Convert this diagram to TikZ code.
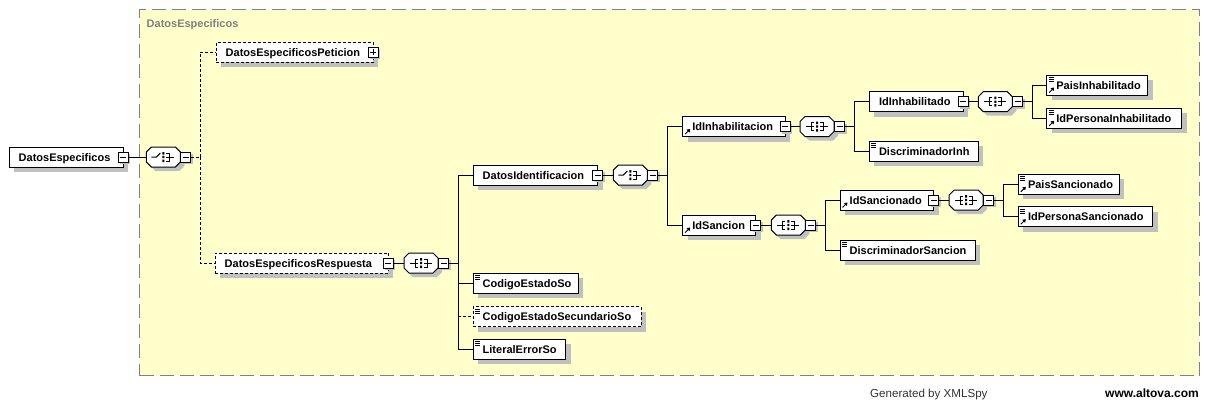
\documentclass[tikz,border=0pt]{standalone}
\usepackage{fontspec}
\setmainfont{Liberation Sans}
\usetikzlibrary{arrows.meta}
\definecolor{grpfill}{RGB}{255,255,204}
\definecolor{grpline}{RGB}{128,128,128}
\definecolor{shad}{RGB}{192,192,192}
\tikzset{
  ebx/.style={draw,fill=white,line width=1pt,minimum height=20pt,inner sep=0pt,outer sep=0pt},
  etxt/.style={anchor=base west,inner sep=0pt,font=\bfseries\fontsize{11}{13}\selectfont},
  sq/.style={draw,fill=white,line width=1pt,minimum size=10pt,inner sep=0pt,outer sep=0pt},
  conn/.style={line width=1pt,black},
  dconn/.style={line width=1pt,black,dash pattern=on 3pt off 2pt},
  edash/.style={dash pattern=on 3pt off 2pt},
  esolid/.style={solid},
}
% element box: name, left, right, cy, label, style
\newcommand\ebox[6]{%
  \fill[shad] (#2+5,#4-5) rectangle (#3+5,#4+15);
  \node[ebx,#6,minimum width={#3-(#2)},anchor=west] (#1) at (#2,#4) {};
  \node[etxt] (#1T) at (#2+9.5,#4+4) {#5};
}
\newcommand\msq[3]{%
  \fill[shad] (#2-3,#3-3) rectangle (#2+7,#3+7);
  \node[sq] (#1) at (#2,#3) {};
  \draw[line width=1pt] (#1.center) +(-3,0) -- +(3,0);
}
\newcommand\psq[3]{%
  \fill[shad] (#2-3,#3-3) rectangle (#2+7,#3+7);
  \node[sq] (#1) at (#2,#3) {};
  \draw[line width=1pt] (#1.center) +(-3,0) -- +(3,0) (#1.center) +(0,-3) -- +(0,3);
}
\newcommand\eqic[1]{%
  \draw[line width=1pt] ([shift={(2,2.5)}]#1.north west) -- ++(5,0)
    ([shift={(2,4.5)}]#1.north west) -- ++(5,0)
    ([shift={(2,6.5)}]#1.north west) -- ++(5,0);
}
\newcommand\refic[1]{%
  \draw[line width=1pt,-{Triangle[length=3pt,width=4pt]}] ([shift={(2.5,-2.5)}]#1.south west) -- ++(5,-5);
}
% octagon: name, cx, cy
\newcommand\octo[3]{%
  \fill[shad,shift={(#2+4,#3+4)}] (-17,-5)--(-12,-10)--(12,-10)--(17,-5)--(17,5)--(12,10)--(-12,10)--(-17,5)--cycle;
  \node[minimum width=34pt,minimum height=20pt,inner sep=0pt,outer sep=0pt] (#1) at (#2,#3) {};
  \draw[line width=1pt,fill=white,shift={(#1.center)}] (-17,-5)--(-12,-10)--(12,-10)--(17,-5)--(17,5)--(12,10)--(-12,10)--(-17,5)--cycle;
  \fill[shift={(#1.center)}] (-1,-5) rectangle (1,-2.5) (-1,-1.2) rectangle (1,1.2) (-1,2.5) rectangle (1,5);
  \draw[line width=1pt,shift={(#1.center)}] (3,-4)--(6,-4)--(6,4)--(3,4) (3,0)--(11,0);
}
\newcommand\seqic[1]{%
  \draw[line width=1pt,shift={(#1.center)}] (-11,0)--(-3,0) (-3,-4)--(-6,-4)--(-6,4)--(-3,4);
}
\newcommand\choic[1]{%
  \draw[line width=1pt,shift={(#1.center)}] (-12,0)--(-7,0)--(-3,-4);
}
\begin{document}
\begin{tikzpicture}[x=1pt,y=-1pt]
\useasboundingbox (0,0) rectangle (1205,405);
\fill[white] (0,0) rectangle (1205,405);
% group
\node[draw=grpline,fill=grpfill,line width=1pt,dash pattern=on 14pt off 6pt,minimum width=1060pt,minimum height=366pt,inner sep=0pt,outer sep=0pt,anchor=north west] (grp) at (139.5,9.5) {};
\node[anchor=base west,inner sep=0pt,text=grpline,font=\bfseries\fontsize{11}{13}\selectfont] (grpT) at (146.5,27) {DatosEspecificos};

% root
\ebox{root}{9}{123.3}{157}{DatosEspecificos}{esolid}
\msq{rootM}{123.3}{157}
\octo{o1}{163.3}{157}\choic{o1}
\msq{o1M}{185.8}{157}
\coordinate (b1) at (200,157);

\ebox{pet}{216}{373.3}{52.3}{DatosEspecificosPeticion}{edash}
\psq{petP}{373.3}{52.3}
\ebox{resp}{215}{388.3}{263}{DatosEspecificosRespuesta}{edash}
\msq{respM}{388.3}{263}
\octo{o2}{421}{263}\seqic{o2}
\msq{o2M}{443.5}{263}
\coordinate (b2) at (458,263);

\ebox{dident}{473}{597.8}{175}{DatosIdentificacion}{esolid}
\msq{didentM}{597.8}{175}
\ebox{ces}{473}{578}{283}{CodigoEstadoSo}{esolid}\eqic{ces}
\ebox{cess}{473}{641}{316.7}{CodigoEstadoSecundarioSo}{edash}\eqic{cess}
\ebox{les}{473}{565.7}{349}{LiteralErrorSo}{esolid}\eqic{les}

\octo{o3}{630.3}{175}\choic{o3}
\msq{o3M}{652.8}{175}
\coordinate (b3) at (667.5,175);

\ebox{inh}{682.7}{785.3}{126.5}{IdInhabilitacion}{esolid}\refic{inh}
\msq{inhM}{785.3}{126.5}
\octo{o4}{817}{126.5}\seqic{o4}
\msq{o4M}{839.5}{126.5}
\coordinate (b4) at (854.3,126.5);

\ebox{idinh}{869.3}{963}{101.7}{IdInhabilitado}{esolid}
\msq{idinhM}{963}{101.7}
\ebox{dinh}{869.3}{978.3}{151}{DiscriminadorInh}{esolid}\eqic{dinh}
\octo{o5}{995.3}{101.7}\seqic{o5}
\msq{o5M}{1017.8}{101.7}
\coordinate (b5) at (1032.3,101.7);
\ebox{pinh}{1046.7}{1147.7}{85}{PaisInhabilitado}{esolid}\eqic{pinh}\refic{pinh}
\ebox{ipinh}{1046.7}{1181.7}{118.3}{IdPersonaInhabilitado}{esolid}\eqic{ipinh}\refic{ipinh}

\ebox{sanc}{682.7}{755.8}{225}{IdSancion}{esolid}\refic{sanc}
\msq{sancM}{755.8}{225}
\octo{o6}{788.3}{225}\seqic{o6}
\msq{o6M}{810.8}{225}
\coordinate (b6) at (825.7,225);

\ebox{idsanc}{840}{933.8}{200}{IdSancionado}{esolid}\refic{idsanc}
\msq{idsancM}{933.8}{200}
\ebox{dsanc}{840}{975}{250}{DiscriminadorSancion}{esolid}\eqic{dsanc}
\octo{o7}{966.2}{200}\seqic{o7}
\msq{o7M}{988.7}{200}
\coordinate (b7) at (1003.3,200);
\ebox{psanc}{1018.3}{1119}{184.3}{PaisSancionado}{esolid}\eqic{psanc}\refic{psanc}
\ebox{ipsanc}{1018.3}{1152.5}{216.7}{IdPersonaSancionado}{esolid}\eqic{ipsanc}\refic{ipsanc}

% connectors
\draw[conn] (rootM.east) -- (o1.west);
\draw[dconn] (o1M.east) -- (b1);
\draw[dconn] (b1) |- (pet.west);
\draw[dconn] (b1) |- (resp.west);

\draw[conn] (respM.east) -- (o2.west);
\draw[conn] (o2M.east) -- (b2);
\draw[conn] (b2) |- (dident.west);
\draw[conn] (b2) |- (ces.west);
\draw[conn] (b2) |- (les.west);
\draw[dconn] (b2 |- cess.west) -- (cess.west);

\draw[conn] (didentM.east) -- (o3.west);
\draw[conn] (o3M.east) -- (b3);
\draw[conn] (b3) |- (inh.west);
\draw[conn] (b3) |- (sanc.west);

\draw[conn] (inhM.east) -- (o4.west);
\draw[conn] (o4M.east) -- (b4);
\draw[conn] (b4) |- (idinh.west);
\draw[conn] (b4) |- (dinh.west);

\draw[conn] (idinhM.east) -- (o5.west);
\draw[conn] (o5M.east) -- (b5);
\draw[conn] (b5) |- (pinh.west);
\draw[conn] (b5) |- (ipinh.west);

\draw[conn] (sancM.east) -- (o6.west);
\draw[conn] (o6M.east) -- (b6);
\draw[conn] (b6) |- (idsanc.west);
\draw[conn] (b6) |- (dsanc.west);

\draw[conn] (idsancM.east) -- (o7.west);
\draw[conn] (o7M.east) -- (b7);
\draw[conn] (b7) |- (psanc.west);
\draw[conn] (b7) |- (ipsanc.west);

% footer
\node[anchor=base west,inner sep=0pt,text=black!80,font=\fontsize{11.6}{14}\selectfont] (gen) at (870,397) {Generated by XMLSpy};
\node[anchor=base west,inner sep=0pt,font=\bfseries\fontsize{12}{14}\selectfont] (alt) at (1105,397) {www.altova.com};
\end{tikzpicture}
\end{document}
